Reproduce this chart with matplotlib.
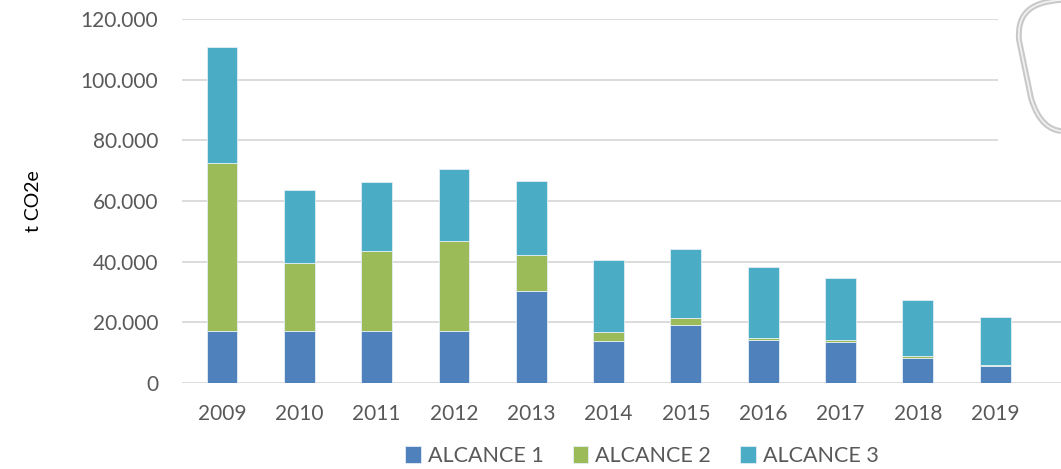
import matplotlib
matplotlib.use("Agg")
import matplotlib.pyplot as plt
from matplotlib.patches import Rectangle, PathPatch
from matplotlib.path import Path
from matplotlib.ticker import FuncFormatter

plt.rcParams['font.family'] = ['Lato', 'DejaVu Sans']

# ==== Data (t CO2e) ====
years = ["2009", "2010", "2011", "2012", "2013", "2014", "2015", "2016", "2017", "2018", "2019"]
alcance_1 = [17000, 17000, 17000, 17100, 30200, 14000, 19000, 14100, 13600, 8400, 5500]
alcance_2 = [55500, 22600, 26400, 29600, 12000, 2800, 2400, 800, 700, 600, 500]
alcance_3 = [38300, 23900, 22900, 23900, 24500, 23700, 22900, 23400, 20300, 18400, 15800]

labels = ["ALCANCE 1", "ALCANCE 2", "ALCANCE 3"]
colors = ["#4F81BD", "#9BBB59", "#4BACC6"]
TEXT_GREY = "#595959"

W, H = 1061, 469
fig = plt.figure(figsize=(W / 100, H / 100), dpi=100)
ax = fig.add_axes([182 / W, (H - 383) / H, (W - 182) / W, 364 / H])

x = list(range(len(years)))
bottom = [0] * len(years)
handles = []
for vals, lab, col in zip([alcance_1, alcance_2, alcance_3], labels, colors):
    b = ax.bar(x, vals, 0.40, bottom=bottom, color=col, edgecolor="#e4eef5",
               linewidth=0.6, label=lab, zorder=3)
    handles.append(b)
    bottom = [b0 + v for b0, v in zip(bottom, vals)]

ax.set_ylim(0, 120000)
ax.set_xlim(-0.517, 10.85)
ax.set_yticks(range(0, 120001, 20000))
ax.yaxis.set_major_formatter(FuncFormatter(lambda v, p: f"{int(v):,}".replace(",", ".")))
ax.set_xticks(x)
ax.set_xticklabels(years)
ax.tick_params(axis="y", length=0, pad=17, labelsize=15, labelcolor=TEXT_GREY)
ax.tick_params(axis="x", length=0, pad=15, labelsize=15, labelcolor=TEXT_GREY)
ax.grid(axis="y", color="#D9D9D9", linewidth=1.3, zorder=0)
for s in ax.spines.values():
    s.set_visible(False)

ax.set_ylabel("t CO2e", fontsize=14, color="black", labelpad=0)
ax.yaxis.set_label_coords(-140 / 879, 0.5)

fig.legend(handles=handles, labels=labels, loc="center", ncol=3,
           bbox_to_anchor=(642 / W, 1 - 456 / H), frameon=False,
           fontsize=15.5, labelcolor=TEXT_GREY, handlelength=0.72, handleheight=0.8,
           handletextpad=0.33, columnspacing=1.35, borderpad=0)

# decorative logo outline in the top-right corner (image overlay in the original)
fig.patches.append(Rectangle((998 / W, 1 - 168 / H), (W - 998) / W, 168 / H,
                             transform=fig.transFigure, facecolor="white",
                             edgecolor="none", zorder=5))
pts = [(1061, 0), (1030, 2), (1017, 14), (1019, 40),
       (1031, 98),
       (1038, 122), (1050, 130), (1061, 131)]
codes = [Path.MOVETO, Path.CURVE4, Path.CURVE4, Path.CURVE4,
         Path.LINETO,
         Path.CURVE4, Path.CURVE4, Path.CURVE4]
path = Path([(px / W, 1 - py / H) for px, py in pts], codes)
fig.patches.append(PathPatch(path, transform=fig.transFigure, facecolor="none",
                             edgecolor="#c9c9c9", linewidth=4.2, zorder=6))
fig.patches.append(PathPatch(path, transform=fig.transFigure, facecolor="none",
                             edgecolor="#f2f2f2", linewidth=1.2, zorder=7))

fig.savefig("out.png", dpi=100)
